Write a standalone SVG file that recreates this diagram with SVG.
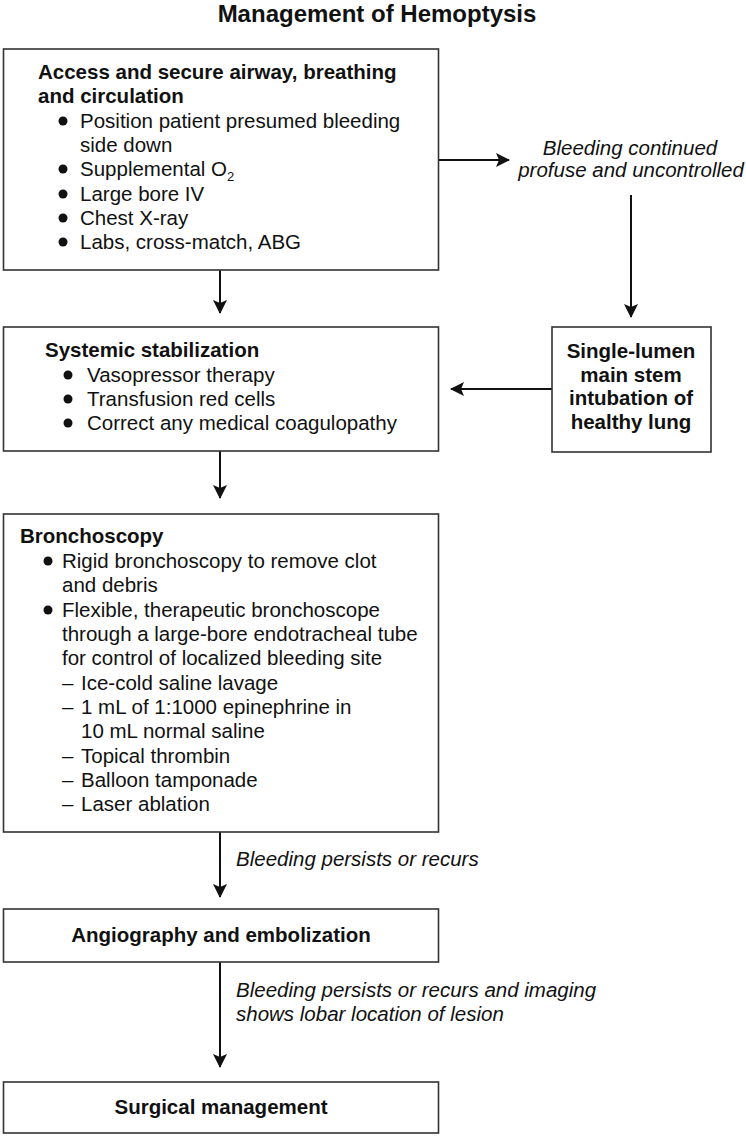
<svg xmlns="http://www.w3.org/2000/svg" width="746" height="1136" viewBox="0 0 746 1136">
<style>
text{font-family:"Liberation Sans",Arial,sans-serif;font-size:20.5px;fill:#111}
.b{font-weight:bold}
.i{font-style:italic}
.t{font-weight:bold;font-size:24px}
.box{fill:#fff;stroke:#333;stroke-width:1.6}
.c{stroke:#111;stroke-width:2;fill:none}
.dot{fill:#111}
</style>
<defs>
<marker id="ah" viewBox="0 0 14 14" refX="13" refY="7" markerWidth="14" markerHeight="14" markerUnits="userSpaceOnUse" orient="auto">
<path d="M0,0 L14,7 L0,14 L3,7 Z" fill="#111"/>
</marker>
</defs>
<rect width="746" height="1136" fill="#fff"/>
<text class="t" x="377" y="22" text-anchor="middle">Management of Hemoptysis</text>

<g id="connectors">
<line class="c" x1="220" y1="270" x2="220" y2="313" marker-end="url(#ah)"/>
<line class="c" x1="438" y1="160" x2="509" y2="160" marker-end="url(#ah)"/>
<line class="c" x1="631" y1="195" x2="631" y2="317" marker-end="url(#ah)"/>
<line class="c" x1="552" y1="389" x2="451" y2="389" marker-end="url(#ah)"/>
<line class="c" x1="220" y1="451" x2="220" y2="498" marker-end="url(#ah)"/>
<line class="c" x1="220" y1="832" x2="220" y2="897" marker-end="url(#ah)"/>
<line class="c" x1="220" y1="962" x2="220" y2="1067" marker-end="url(#ah)"/>
<text class="i" x="630" y="155" text-anchor="middle">Bleeding continued</text>
<text class="i" x="631" y="177" text-anchor="middle">profuse and uncontrolled</text>
<text class="i" x="236" y="866">Bleeding persists or recurs</text>
<text class="i" x="236" y="997">Bleeding persists or recurs and imaging</text>
<text class="i" x="236" y="1021">shows lobar location of lesion</text>
</g>

<g id="airway">
<rect class="box" x="3.5" y="49" width="435" height="221"/>
<text class="b" x="38" y="79">Access and secure airway, breathing</text>
<text class="b" x="38" y="103">and circulation</text>
<circle class="dot" cx="63" cy="121" r="4.5"/>
<text x="80" y="128">Position patient presumed bleeding</text>
<text x="80" y="152">side down</text>
<circle class="dot" cx="63" cy="169" r="4.5"/>
<text x="80" y="176">Supplemental O<tspan font-size="13" dy="5">2</tspan></text>
<circle class="dot" cx="63" cy="194" r="4.5"/>
<text x="80" y="201">Large bore IV</text>
<circle class="dot" cx="63" cy="218" r="4.5"/>
<text x="80" y="225">Chest X-ray</text>
<circle class="dot" cx="63" cy="242" r="4.5"/>
<text x="80" y="249">Labs, cross-match, ABG</text>
</g>

<g id="stabilization">
<rect class="box" x="3.5" y="327" width="435" height="124"/>
<text class="b" x="45" y="357">Systemic stabilization</text>
<circle class="dot" cx="68" cy="375" r="4.5"/>
<text x="87" y="382">Vasopressor therapy</text>
<circle class="dot" cx="68" cy="399" r="4.5"/>
<text x="87" y="406">Transfusion red cells</text>
<circle class="dot" cx="68" cy="423" r="4.5"/>
<text x="87" y="430">Correct any medical coagulopathy</text>
</g>

<g id="intubation">
<rect class="box" x="552" y="327" width="159" height="125"/>
<text class="b" x="631" y="358" text-anchor="middle">Single-lumen</text>
<text class="b" x="631" y="382" text-anchor="middle">main stem</text>
<text class="b" x="631" y="405" text-anchor="middle">intubation of</text>
<text class="b" x="631" y="429" text-anchor="middle">healthy lung</text>
</g>

<g id="bronchoscopy">
<rect class="box" x="3.5" y="514" width="435" height="318"/>
<text class="b" x="20" y="543">Bronchoscopy</text>
<circle class="dot" cx="48" cy="561" r="4.5"/>
<text x="62" y="568">Rigid bronchoscopy to remove clot</text>
<text x="62" y="592">and debris</text>
<circle class="dot" cx="48" cy="610" r="4.5"/>
<text x="62" y="617">Flexible, therapeutic bronchoscope</text>
<text x="62" y="641">through a large-bore endotracheal tube</text>
<text x="62" y="665">for control of localized bleeding site</text>
<text x="62" y="690">–</text><text x="81" y="690">Ice-cold saline lavage</text>
<text x="62" y="714">–</text><text x="81" y="714">1 mL of 1:1000 epinephrine in</text>
<text x="81" y="738">10 mL normal saline</text>
<text x="62" y="763">–</text><text x="81" y="763">Topical thrombin</text>
<text x="62" y="787">–</text><text x="81" y="787">Balloon tamponade</text>
<text x="62" y="811">–</text><text x="81" y="811">Laser ablation</text>
</g>

<g id="angiography">
<rect class="box" x="3.5" y="909" width="435" height="53"/>
<text class="b" x="221" y="942" text-anchor="middle">Angiography and embolization</text>
</g>

<g id="surgical">
<rect class="box" x="3.5" y="1082" width="435" height="51"/>
<text class="b" x="221" y="1114" text-anchor="middle">Surgical management</text>
</g>
</svg>
